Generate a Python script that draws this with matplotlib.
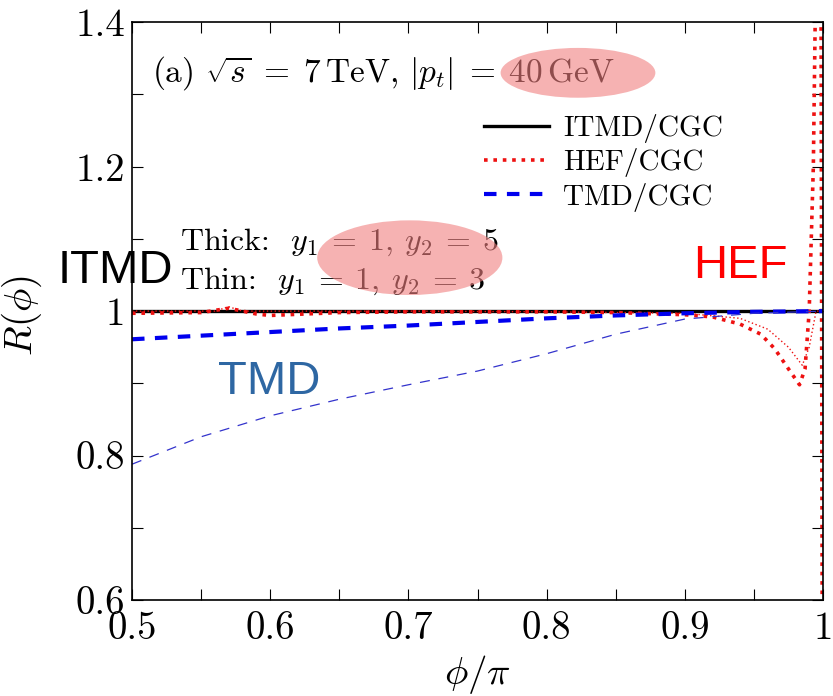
import numpy as np
import matplotlib.pyplot as plt
from matplotlib.patches import Ellipse
from matplotlib.ticker import MultipleLocator

plt.rcParams['mathtext.fontset'] = 'cm'
plt.rcParams['font.family'] = ['cmr10', 'DejaVu Serif']
plt.rcParams['axes.formatter.use_mathtext'] = True

# ratios to CGC, thick: y1=1, y2=5 ; thin: y1=1, y2=3
phi_itmd = [0.5, 0.6, 0.7, 0.8, 0.9, 1.0]
itmd_thick = [1.0, 1.0, 1.0, 1.0, 1.0, 1.0]
itmd_thin = [0.999, 0.999, 1.0, 1.0, 1.0, 1.0]

phi_tmd = [0.5, 0.55, 0.6, 0.65, 0.7, 0.75, 0.8, 0.85, 0.9, 0.95, 1.0]
tmd_thick = [0.961, 0.966, 0.971, 0.976, 0.980, 0.985, 0.990, 0.994, 0.997, 0.999, 1.0]
tmd_thin = [0.788, 0.826, 0.855, 0.878, 0.898, 0.917, 0.941, 0.968, 0.989, 0.997, 1.0]

phi_hef_thick = [0.5, 0.55, 0.57, 0.59, 0.6, 0.65, 0.7, 0.75, 0.8, 0.85, 0.9, 0.92,
                 0.94, 0.955, 0.965, 0.975, 0.983, 0.987, 0.99, 0.993, 0.995, 0.9985, 0.9995]
hef_thick = [0.997, 0.998, 1.004, 0.996, 0.994, 0.998, 0.999, 0.999, 0.999, 0.998, 0.995, 0.992,
             0.982, 0.968, 0.948, 0.920, 0.898, 0.920, 1.0, 1.2, 1.5, 1.5, 0.5]
phi_hef_thin = [0.5, 0.56, 0.57, 0.58, 0.6, 0.7, 0.8, 0.9, 0.94, 0.96, 0.975, 0.985, 0.99, 0.995, 1.0]
hef_thin = [1.0, 1.0, 1.006, 1.0, 1.0, 1.0, 0.999, 0.997, 0.99, 0.975, 0.95, 0.925, 0.95, 1.0, 1.0]

xticks = [0.5, 0.6, 0.7, 0.8, 0.9, 1.0]
xticklabels = ['0.5', '0.6', '0.7', '0.8', '0.9', '1']
yticks = [0.6, 0.8, 1.0, 1.2, 1.4]
yticklabels = ['0.6', '0.8', '1', '1.2', '1.4']

fig = plt.figure(figsize=(8.33, 6.96), dpi=100)
ax = fig.add_axes([0.1585, 0.138, 0.8295, 0.830])

l1, = ax.plot(phi_itmd, itmd_thick, color='black', lw=2.4, label='ITMD/CGC')
ax.plot(phi_itmd, itmd_thin, color='black', lw=0.8)
l2, = ax.plot(phi_hef_thick, hef_thick, color='#ee1111', lw=2.6, ls=(0, (1, 1.6)),
              label='HEF/CGC')
ax.plot(phi_hef_thin, hef_thin, color='#ee1111', lw=1.0, ls=(0, (1, 1.8)))
l3, = ax.plot(phi_tmd, tmd_thick, color='#0000ee', lw=3.0, ls=(0, (3, 2.5)),
              label='TMD/CGC')
ax.plot(phi_tmd, tmd_thin, color='#3333cc', lw=0.9, ls=(0, (8, 7)))

ax.set_xlim(0.5, 1.0)
ax.set_ylim(0.6, 1.4)
ax.xaxis.set_minor_locator(MultipleLocator(0.05))
ax.yaxis.set_minor_locator(MultipleLocator(0.1))
ax.set_xticks(xticks)
ax.set_xticklabels(xticklabels)
ax.set_yticks(yticks)
ax.set_yticklabels(yticklabels)
ax.tick_params(which='both', direction='in', top=True, right=True, labelsize=28, width=0.8)
ax.tick_params(which='major', length=8)
ax.tick_params(which='minor', length=8)
ax.tick_params(axis='x', which='major', pad=8)
ax.tick_params(axis='y', which='major', pad=5)
for s in ax.spines.values():
    s.set_linewidth(1.2)

ax.set_xlabel(r'$\phi/\pi$', fontsize=28)
ax.set_ylabel(r'$R(\phi)$', fontsize=28)
ax.xaxis.set_label_coords(0.5, -0.092)
ax.yaxis.set_label_coords(-0.128, 0.493)

ax.legend(handles=[l1, l2, l3], loc='upper left', bbox_to_anchor=(0.51, 0.841),
          borderaxespad=0, borderpad=0, frameon=False, fontsize=21,
          handlelength=2.2, handletextpad=0.5, labelspacing=0.18)

ax.text(0.5145, 1.33, r'(a) $\sqrt{s}\;=\;7\,\mathrm{TeV}$, $|p_t|\;=\;40\,\mathrm{GeV}$',
        fontsize=24, va='center')
ax.text(0.5347, 1.095, r'Thick:  $y_1\:=\:1,\:y_2\:=\:5$', fontsize=23, va='center')
ax.text(0.5347, 1.041, r'Thin:  $y_1\:=\:1,\:y_2\:=\:3$', fontsize=23, va='center')

ax.add_patch(Ellipse((0.8227, 1.330), 0.112, 0.069, color='#f08080', alpha=0.6, lw=0, zorder=5))
ax.add_patch(Ellipse((0.701, 1.074), 0.134, 0.1034, color='#f08080', alpha=0.6, lw=0, zorder=5))

ax.text(0.4465, 1.055, 'ITMD', family='Liberation Sans', fontsize=34, color='black',
        va='center', clip_on=False, zorder=6)
ax.text(0.906, 1.063, 'HEF', family='Liberation Sans', fontsize=34, color='#ff0000',
        va='center', zorder=6)
ax.text(0.5622, 0.902, 'TMD', family='Liberation Sans', fontsize=34, color='#2e67a3',
        va='center', zorder=6)

fig.savefig('out.png', dpi=100)
